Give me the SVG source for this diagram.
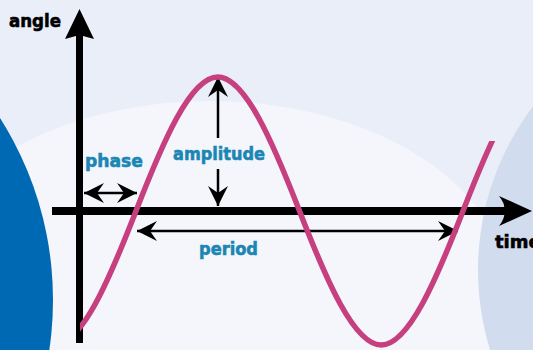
<svg xmlns="http://www.w3.org/2000/svg" width="533" height="350" viewBox="0 0 533 350">
  <style>
    .lbl { font-family: "DejaVu Sans", "Liberation Sans", sans-serif; font-weight: bold; font-size: 18px; stroke-width: 0.6; }
    .blk { fill: #000; stroke: #000; }
    .ax { fill: #000; }
    .teal { fill: #1b86b4; stroke: #1b86b4; }
    .thin { stroke: #000; stroke-width: 2.5; fill: none; }
  </style>
  <defs>
    <marker id="ah" viewBox="-21 -11 22 22" refX="0" refY="0" markerWidth="22" markerHeight="22" markerUnits="userSpaceOnUse" orient="auto-start-reverse">
      <path d="M0,0 L-20,-10 L-13,0 L-20,10 Z" fill="#000"/>
    </marker>
    <clipPath id="wclip">
      <polygon points="80,0 470,0 470,141 540,141 540,350 80,350"/>
    </clipPath>
  </defs>

  <g id="background">
    <rect x="0" y="0" width="533" height="350" fill="#e9eef8"/>
    <ellipse cx="210" cy="296" rx="300" ry="195" fill="#f4f6fc"/>
    <circle cx="749" cy="270" r="271" fill="#d1dcee"/>
    <circle cx="-286" cy="300" r="339" fill="#0069b4"/>
  </g>

  <g id="axes">
    <rect x="76" y="34" width="7" height="309" class="ax"/>
    <polygon points="79.5,9 94,39 79.5,35 65,39" class="ax"/>
    <rect x="52" y="207" width="454" height="8" class="ax"/>
    <path d="M532,211 L499,196 Q506,205 504,211 Q506,217 499,226 Z" class="ax"/>
  </g>

  <g id="connectors">
    <line x1="84" y1="193" x2="137" y2="193" class="thin" marker-start="url(#ah)" marker-end="url(#ah)"/>
    <line x1="218" y1="138" x2="218" y2="77" class="thin" marker-end="url(#ah)"/>
    <line x1="218" y1="169" x2="218" y2="206" class="thin" marker-end="url(#ah)"/>
    <line x1="137" y1="231" x2="458" y2="231" class="thin" marker-start="url(#ah)" marker-end="url(#ah)"/>
  </g>

  <g id="wave">
    <path clip-path="url(#wclip)" fill="none" stroke="#c6407f" stroke-width="5.5"
      d="M54.25,345 C81.55,345 109.34,279.65 136,211 C162.66,142.35 190.45,77 217.75,77 C245.05,77 272.84,142.35 299.5,211 C326.16,279.65 353.95,345 381.25,345 C408.55,345 436.34,279.65 463,211 C489.66,142.35 517.45,77 544.75,77"/>
  </g>

  <g id="labels">
    <text x="9" y="27" class="lbl blk" textLength="52" lengthAdjust="spacingAndGlyphs">angle</text>
    <text x="495" y="248" class="lbl blk">time</text>
    <text x="85" y="167" class="lbl teal" textLength="58" lengthAdjust="spacingAndGlyphs">phase</text>
    <text x="173" y="160" class="lbl teal" textLength="92" lengthAdjust="spacingAndGlyphs">amplitude</text>
    <text x="199" y="255" class="lbl teal" textLength="59" lengthAdjust="spacingAndGlyphs">period</text>
  </g>
</svg>
